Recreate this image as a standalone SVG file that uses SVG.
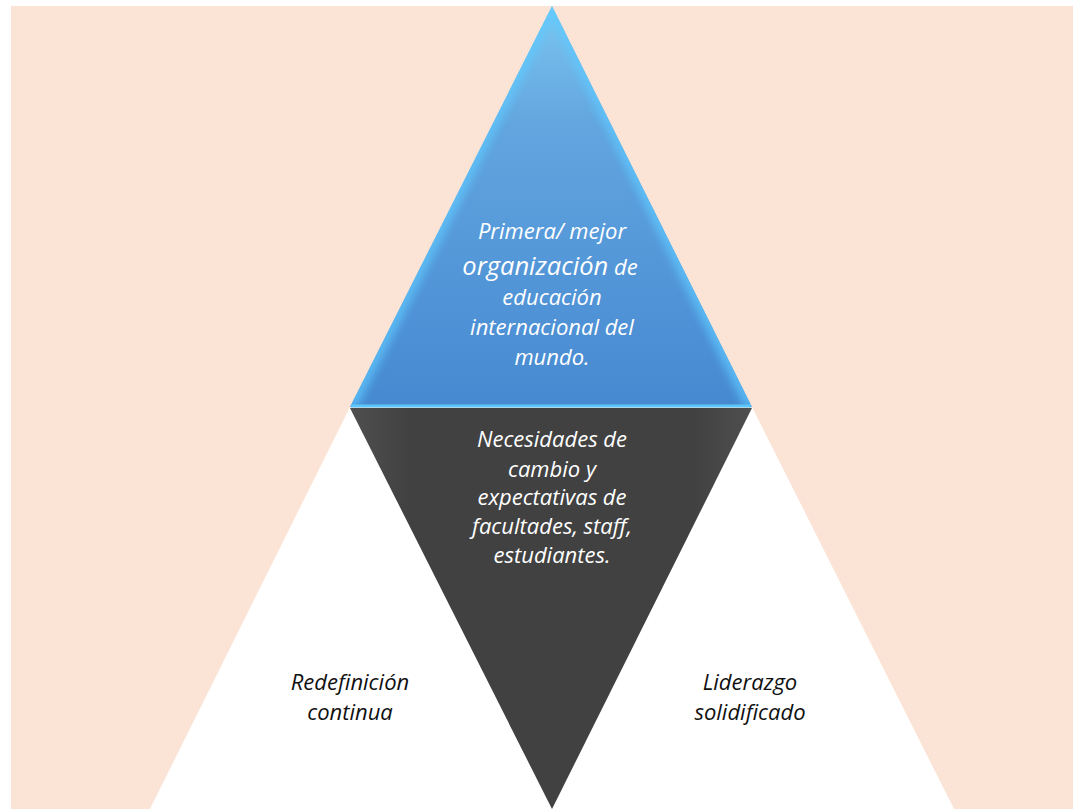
<svg xmlns="http://www.w3.org/2000/svg" width="1073" height="809" viewBox="0 0 1073 809">
<defs>
<style>
.t{font-family:"Open Sans","Liberation Sans",sans-serif;font-style:italic;text-anchor:middle;font-size:22px;}
.w{fill:#ffffff;}
.k{fill:#111111;}
</style>
<linearGradient id="blueV" x1="0" y1="0" x2="0" y2="1">
<stop offset="0" stop-color="#7cc6ef"/>
<stop offset="0.3" stop-color="#62a5df"/>
<stop offset="1" stop-color="#4689d1"/>
</linearGradient>
<linearGradient id="darkH" x1="0" y1="0" x2="1" y2="0">
<stop offset="0" stop-color="#4f4f4f"/>
<stop offset="0.15" stop-color="#414141"/>
<stop offset="0.85" stop-color="#414141"/>
<stop offset="1" stop-color="#4f4f4f"/>
</linearGradient>
<clipPath id="clipTop"><polygon points="552,6 752,407 350,407"/></clipPath>
<filter id="blur" x="-20%" y="-20%" width="140%" height="140%"><feGaussianBlur stdDeviation="5"/></filter>
</defs>
<rect x="11" y="6" width="1062" height="803" fill="#fbe4d6"/>
<g id="white-left"><polygon points="350,407 552,809 150,809" fill="#ffffff"/></g>
<g id="white-right"><polygon points="752,407 954,809 552,809" fill="#ffffff"/></g>
<g id="top-triangle">
<polygon points="552,6 752,407 350,407" fill="url(#blueV)"/>
<g clip-path="url(#clipTop)">
<polyline points="350,407 552,6 752,407" fill="none" stroke="#5fcaff" stroke-width="12" filter="url(#blur)" opacity="0.8"/>
</g>
<line x1="351" y1="406" x2="751" y2="406" stroke="#5cc8ff" stroke-width="3"/>
</g>
<g id="bottom-triangle">
<polygon points="350,408 752,408 552,809" fill="url(#darkH)"/>
</g>
<g id="connectors"></g>
<g id="label-top">
<text class="t w" x="552" y="239">Primera/ mejor</text>
<text class="t w" x="550" y="275"><tspan font-size="25.5px">organización</tspan> de</text>
<text class="t w" x="552" y="305">educación</text>
<text class="t w" x="552" y="335">internacional del</text>
<text class="t w" x="552" y="365">mundo.</text>
</g>
<g id="label-bottom">
<text class="t w" x="552" y="447">Necesidades de</text>
<text class="t w" x="552" y="477">cambio y</text>
<text class="t w" x="552" y="505">expectativas de</text>
<text class="t w" x="552" y="534">facultades, staff,</text>
<text class="t w" x="552" y="563">estudiantes.</text>
</g>
<g id="label-left">
<text class="t k" x="350" y="690">Redefinición</text>
<text class="t k" x="350" y="720">continua</text>
</g>
<g id="label-right">
<text class="t k" x="750" y="690">Liderazgo</text>
<text class="t k" x="750" y="720">solidificado</text>
</g>
</svg>
